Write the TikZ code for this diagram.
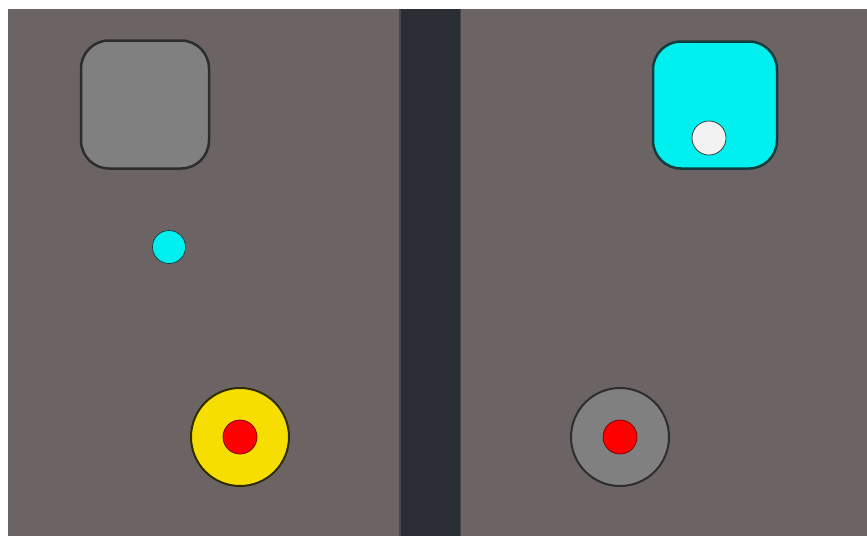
\documentclass[tikz,border=0pt]{standalone}
\begin{document}
\begin{tikzpicture}[x=1pt,y=-1pt,
  bgcol/.style={fill={rgb,255:red,108;green,100;blue,100}},
  boxstyle/.style={rounded corners=28pt,line width=2.5pt},
  dot/.style={circle,inner sep=0pt,line width=0.7pt}]
\definecolor{stripcol}{RGB}{42,45,52}
\definecolor{stripedge}{RGB}{70,72,78}
\definecolor{darkline}{RGB}{45,45,45}
\definecolor{cyanfill}{RGB}{0,240,240}
\definecolor{cyanline}{RGB}{20,60,60}
\definecolor{grayfill}{RGB}{128,128,128}
\definecolor{yellowfill}{RGB}{245,222,0}
\definecolor{whitefill}{RGB}{242,242,242}
\useasboundingbox (0,0) rectangle (867,536);
\fill[white] (0,0) rectangle (867,536);
\fill[bgcol] (8,9) rectangle (867,536);
\fill[stripedge] (399,9) rectangle (461,536);
\fill[stripcol] (400.5,9) rectangle (459.5,536);
% rounded squares
\node[draw=darkline,fill=grayfill,boxstyle,minimum width=128pt,minimum height=128pt] (lbox) at (145,104.5) {};
\node[draw=cyanline,fill=cyanfill,boxstyle,minimum width=124pt,minimum height=127pt] (rbox) at (715,105) {};
\node[dot,draw=darkline,fill=whitefill,minimum size=34pt] (wdot) at (709,138) {};
\node[dot,draw=cyanline,fill=cyanfill,minimum size=33pt] (cdot) at (169,247) {};
% buttons
\node[circle,inner sep=0pt,draw=black!80!yellowfill,line width=2pt,fill=yellowfill,minimum size=98pt] (ybtn) at (240,437) {};
\node[dot,draw={rgb,255:red,110;green,0;blue,0},fill=red,minimum size=34pt] (ydot) at (240,437) {};
\node[circle,inner sep=0pt,draw=darkline,line width=2pt,fill=grayfill,minimum size=98pt] (gbtn) at (620,437) {};
\node[dot,draw={rgb,255:red,110;green,0;blue,0},fill=red,minimum size=34pt] (gdot) at (620,437) {};
\end{tikzpicture}
\end{document}
